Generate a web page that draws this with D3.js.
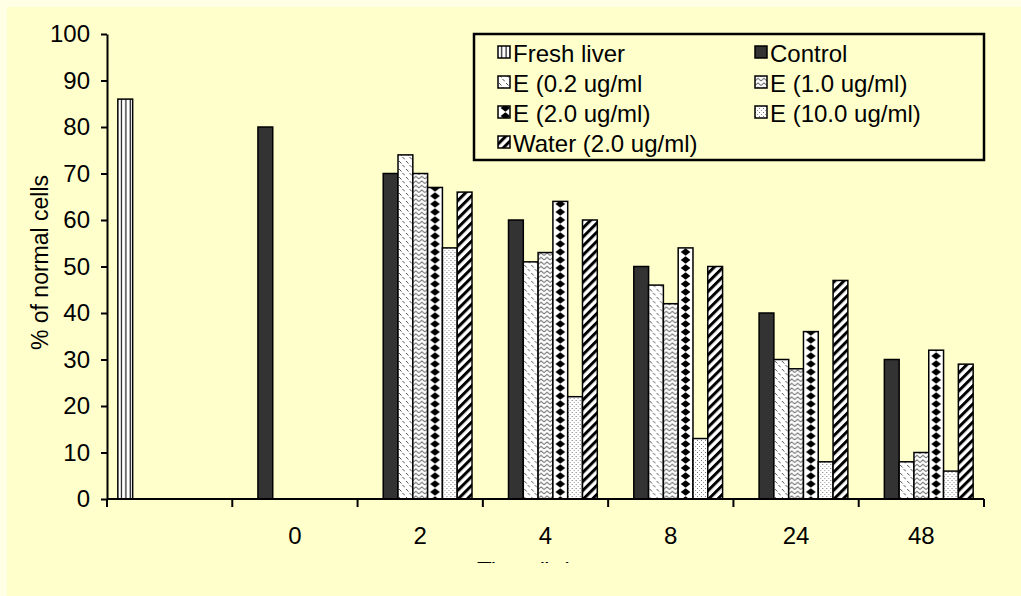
<!DOCTYPE html>
<html>
<head>
<meta charset="utf-8">
<script src="https://cdn.jsdelivr.net/npm/d3@7"></script>
<style>
  html, body { margin: 0; padding: 0; background: #FFFFE6; }
  svg { display: block; font-family: "Liberation Sans", Arial, sans-serif; }
</style>
</head>
<body>
<svg id="chart" width="1021" height="596"></svg>
<script>
// Time points (first slot holds the fresh-liver reference bar)
const categories = ["", "0", "2", "4", "8", "24", "48"];
const seriesNames = ["Fresh liver", "Control", "E (0.2 ug/ml", "E (1.0 ug/ml)",
                     "E (2.0 ug/ml)", "E (10.0 ug/ml)", "Water (2.0 ug/ml)"];

// % of normal cells per series, one entry per time point
const freshLiver = [86, null, null, null, null, null, null];
const control    = [null, 80, 70, 60, 50, 40, 30];
const e02        = [null, null, 74, 51, 46, 30, 8];
const e10        = [null, null, 70, 53, 42, 28, 10];
const e20        = [null, null, 67, 64, 54, 36, 32];
const e100       = [null, null, 54, 22, 13, 8, 6];
const water      = [null, null, 66, 60, 50, 47, 29];

const yTickValues = [0, 10, 20, 30, 40, 50, 60, 70, 80, 90, 100];
const yTitle = "% of normal cells";
const xTitle = "Time (hr)";

const seriesValues = [freshLiver, control, e02, e10, e20, e100, water];
const patternIds = ["p-vert", "p-solid", "p-dash", "p-zig", "p-diam", "p-dots", "p-diag"];

const FONT = "Liberation Sans, Arial, sans-serif";
const svg = d3.select("#chart");

// Panel backgrounds
svg.append("rect").attr("x", 0).attr("y", 0).attr("width", 1021).attr("height", 596).attr("fill", "#FFFFE6");
svg.append("rect").attr("x", 7).attr("y", 7).attr("width", 1014).attr("height", 589).attr("fill", "#FFFFCC");

const plot = { left: 107, right: 984, top: 34, bottom: 499 };

const x0 = d3.scaleBand().domain(categories).range([plot.left, plot.right]).paddingInner(0).paddingOuter(0);
const groupPad = 10.85;
const x1 = d3.scaleBand().domain(d3.range(seriesNames.length))
  .range([groupPad, x0.bandwidth() - groupPad]).padding(0);
const y = d3.scaleLinear().domain([0, 100]).range([plot.bottom, plot.top]);

const bw = x1.bandwidth();

// Fill patterns
const defs = svg.append("defs");

let p = defs.append("pattern").attr("id", "p-vert").attr("patternUnits", "userSpaceOnUse")
  .attr("width", 4.3).attr("height", 4);
p.append("rect").attr("width", 4.3).attr("height", 4).attr("fill", "#fff");
p.append("rect").attr("x", 3.2).attr("width", 1.1).attr("height", 4).attr("fill", "#000");

p = defs.append("pattern").attr("id", "p-solid").attr("patternUnits", "userSpaceOnUse")
  .attr("width", 4).attr("height", 4);
p.append("rect").attr("width", 4).attr("height", 4).attr("fill", "#333333");

p = defs.append("pattern").attr("id", "p-dash").attr("patternUnits", "userSpaceOnUse")
  .attr("width", 7).attr("height", 8);
p.append("rect").attr("width", 7).attr("height", 8).attr("fill", "#fff");
p.append("line").attr("x1", 1).attr("y1", 1).attr("x2", 3.5).attr("y2", 3.5)
  .attr("stroke", "#555").attr("stroke-width", 1);
p.append("line").attr("x1", 4.5).attr("y1", 5).attr("x2", 7).attr("y2", 7.5)
  .attr("stroke", "#555").attr("stroke-width", 1);

p = defs.append("pattern").attr("id", "p-zig").attr("patternUnits", "userSpaceOnUse")
  .attr("width", 6).attr("height", 4.5);
p.append("rect").attr("width", 6).attr("height", 4.5).attr("fill", "#fff");
p.append("polyline").attr("points", "0,3.5 3,0.8 6,3.5").attr("fill", "none")
  .attr("stroke", "#555").attr("stroke-width", 1);

p = defs.append("pattern").attr("id", "p-diam").attr("patternUnits", "userSpaceOnUse")
  .attr("width", bw).attr("height", 8);
p.append("rect").attr("width", bw).attr("height", 8).attr("fill", "#fff");
p.append("polygon")
  .attr("points", `${bw / 2},0.3 ${bw / 2 + 4.8},4 ${bw / 2},7.7 ${bw / 2 - 4.8},4`)
  .attr("fill", "#000");

p = defs.append("pattern").attr("id", "p-dots").attr("patternUnits", "userSpaceOnUse")
  .attr("width", 4).attr("height", 4);
p.append("rect").attr("width", 4).attr("height", 4).attr("fill", "#fff");
p.append("rect").attr("x", 0).attr("y", 0).attr("width", 1).attr("height", 1).attr("fill", "#777");
p.append("rect").attr("x", 2).attr("y", 2).attr("width", 1).attr("height", 1).attr("fill", "#999");

p = defs.append("pattern").attr("id", "p-diag").attr("patternUnits", "userSpaceOnUse")
  .attr("width", 6.4).attr("height", 6.4).attr("patternTransform", "rotate(45)");
p.append("rect").attr("width", 6.4).attr("height", 6.4).attr("fill", "#fff");
p.append("rect").attr("width", 3).attr("height", 6.4).attr("fill", "#000");

// Bars
const barData = [];
seriesValues.forEach((vals, si) => {
  vals.forEach((v, ci) => {
    if (v != null) barData.push({ si, cat: categories[ci], v });
  });
});

svg.append("g").selectAll("g.bar").data(barData).join("g")
  .attr("class", "bar")
  .attr("transform", d => `translate(${x0(d.cat) + x1(d.si)},0)`)
  .append("rect")
  .attr("x", 0)
  .attr("y", d => y(d.v))
  .attr("width", bw)
  .attr("height", d => y(0) - y(d.v))
  .attr("fill", d => `url(#${patternIds[d.si]})`)
  .attr("stroke", "#000")
  .attr("stroke-width", 1.5);

// Y axis
const yAxis = svg.append("g").attr("transform", `translate(${plot.left},0)`)
  .call(d3.axisLeft(y).tickValues(yTickValues).tickSize(6).tickPadding(11).tickSizeOuter(0));
yAxis.select(".domain").attr("stroke", "#000").attr("stroke-width", 2);
yAxis.selectAll(".tick line").attr("stroke", "#000").attr("stroke-width", 2);
yAxis.selectAll(".tick text").attr("font-size", 24).attr("fill", "#000")
  .attr("font-family", FONT);

// X axis: labels at category centres, ticks at category boundaries
const xAxis = svg.append("g").attr("transform", `translate(0,${plot.bottom})`)
  .call(d3.axisBottom(x0).tickSize(0).tickPadding(28).tickSizeOuter(0));
xAxis.select(".domain").attr("stroke", "#000").attr("stroke-width", 2)
  .attr("d", `M${plot.left},0H${plot.right}`);
xAxis.selectAll(".tick text").attr("font-size", 24).attr("fill", "#000")
  .attr("font-family", FONT);

const boundaries = categories.map(c => x0(c)).concat([x0(categories[categories.length - 1]) + x0.bandwidth()]);
svg.append("g").selectAll("line").data(boundaries).join("line")
  .attr("x1", d => d).attr("x2", d => d)
  .attr("y1", plot.bottom).attr("y2", plot.bottom + 8)
  .attr("stroke", "#000").attr("stroke-width", 2);

// Axis titles
svg.append("text")
  .attr("transform", `translate(40,${(plot.top + plot.bottom) / 2 - 4}) rotate(-90)`)
  .attr("text-anchor", "middle").attr("dominant-baseline", "central")
  .attr("font-size", 23).attr("fill", "#000").text(yTitle);

defs.append("clipPath").attr("id", "title-clip")
  .append("rect").attr("x", 0).attr("y", 0).attr("width", 1021).attr("height", 563);
svg.append("text")
  .attr("clip-path", "url(#title-clip)")
  .attr("x", 477).attr("y", 578.5)
  .attr("font-size", 24).attr("fill", "#000").text(xTitle);

// Legend
const legend = { x: 474, y: 34, w: 510, h: 126 };
svg.append("rect").attr("x", legend.x).attr("y", legend.y)
  .attr("width", legend.w).attr("height", legend.h)
  .attr("fill", "#FFFFCC").attr("stroke", "#000").attr("stroke-width", 2.5);

const colX = [498, 755];
const rowY = [52, 82, 112, 142];
const items = svg.append("g").selectAll("g").data(seriesNames).join("g")
  .attr("transform", (d, i) => `translate(${colX[i % 2]},${rowY[Math.floor(i / 2)]})`);
items.append("rect")
  .attr("x", 0).attr("y", -6).attr("width", 12).attr("height", 12)
  .attr("fill", (d, i) => `url(#${patternIds[i]})`)
  .attr("stroke", "#000").attr("stroke-width", 1.5);
items.append("text")
  .attr("x", 15).attr("y", 1).attr("dominant-baseline", "central")
  .attr("font-size", 24).attr("fill", "#000").text(d => d);
</script>
</body>
</html>
